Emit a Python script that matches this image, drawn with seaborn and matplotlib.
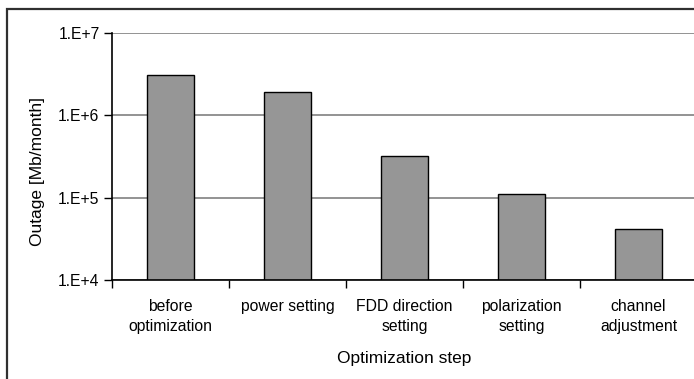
import matplotlib
matplotlib.use("Agg")
import matplotlib.pyplot as plt
import matplotlib.patches as mpatches
from matplotlib.ticker import FixedLocator, FuncFormatter, NullLocator
import seaborn as sns
import pandas as pd
import numpy as np

categories = ["before\noptimization", "power setting", "FDD direction\nsetting",
              "polarization\nsetting", "channel\nadjustment"]
outage = [3.09e6, 1.92e6, 3.25e5, 1.10e5, 4.21e4]
y_ticks = [1e4, 1e5, 1e6, 1e7]

sns.set_theme(style="white")
plt.rcParams['font.family'] = ['Liberation Sans', 'DejaVu Sans']

W, H = 694, 379
fig = plt.figure(figsize=(W / 100, H / 100), dpi=100)
ax = fig.add_axes([112 / W, (H - 280) / H, 585 / W, 247 / H])
ax.set_yscale("log")

df = pd.DataFrame({"step": categories, "outage": outage})
sns.barplot(data=df, x="step", y="outage", order=categories, color="#969696",
            saturation=1, edgecolor="black", linewidth=1.0, width=0.4, ax=ax)

ax.set_ylim(1e4, 1e7)
ax.set_xlim(-0.5, len(categories) - 0.5)

# y axis
ax.yaxis.set_major_locator(FixedLocator(y_ticks))
ax.yaxis.set_minor_locator(NullLocator())
ax.yaxis.set_major_formatter(FuncFormatter(lambda v, p: "1.E+%d" % int(round(np.log10(v)))))
ax.grid(axis="y", which="major", color="#808080", linewidth=1.2)
ax.set_axisbelow(True)

# x axis: boundary ticks (major) and centered labels (minor)
xs = np.arange(len(categories))
bounds = np.arange(-0.5, len(categories) - 0.4, 1.0)
ax.set_xticks(bounds)
ax.set_xticklabels([""] * len(bounds))
ax.set_xticks(xs, minor=True)
ax.set_xticklabels(categories, minor=True, linespacing=1.36)

ax.tick_params(axis="x", which="major", direction="out", length=6, width=1,
               color="black", bottom=True)
ax.tick_params(axis="x", which="minor", length=0, pad=14, labelsize=11.3,
               labelcolor="black", bottom=True)
ax.tick_params(axis="y", which="major", direction="out", length=6, width=1,
               color="black", left=True, labelsize=11.3, labelcolor="black", pad=3)

for s in ["top", "right"]:
    ax.spines[s].set_visible(False)
for s in ["left", "bottom"]:
    ax.spines[s].set_color("black")
    ax.spines[s].set_linewidth(1.2)

ax.set_xlabel("Optimization step", fontsize=12.5, color="black")
ax.set_ylabel("Outage [Mb/month]", fontsize=12.5, color="black")
ax.xaxis.set_label_coords(0.5, (280 - 351) / 247)
ax.yaxis.set_label_coords((38 - 112) / 585, (280 - 172) / 247)
ax.yaxis.label.set_va("center")

# outer chart border (cut by image edges on right and bottom)
border = mpatches.Rectangle((7 / W, -0.1), 1.2, (H - 9) / H + 0.1,
                            transform=fig.transFigure, fill=False,
                            edgecolor="#303030", linewidth=1.6, clip_on=False)
fig.patches.append(border)

fig.savefig("out.png", dpi=100)
